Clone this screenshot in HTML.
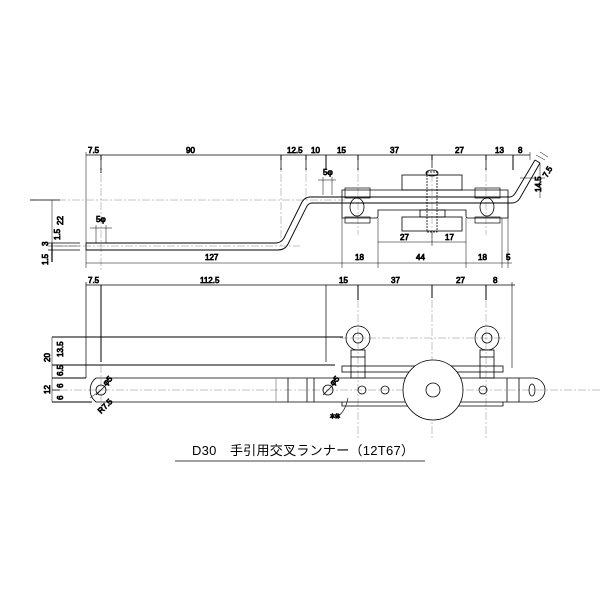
<!DOCTYPE html>
<html><head><meta charset="utf-8"><style>body{margin:0;background:#fff}svg{display:block}text{font-family:"Liberation Sans",sans-serif;font-size:8px;fill:#000}</style></head>
<body>
<svg width="600" height="600" viewBox="0 0 600 600" xmlns="http://www.w3.org/2000/svg" fill="none" stroke="#000" stroke-width="0.8">
<!-- ===== TOP VIEW ===== -->
<g stroke-width="0.7">
<line x1="86" y1="155" x2="530" y2="155"/>
<g stroke-width="1">
<line x1="101" y1="155" x2="101" y2="173"/><line x1="281" y1="155" x2="281" y2="170"/><line x1="306" y1="155" x2="306" y2="170"/><line x1="326" y1="155" x2="326" y2="170"/><line x1="358" y1="155" x2="358" y2="170"/><line x1="432" y1="155" x2="432" y2="168"/><line x1="486" y1="155" x2="486" y2="170"/><line x1="513" y1="155" x2="513" y2="170"/>
</g>
<line x1="86" y1="152" x2="86" y2="268" stroke-width="0.5"/>
<line x1="530" y1="152" x2="530" y2="160" stroke-width="0.5"/>
</g>
<g stroke="#888" stroke-width="0.5" stroke-dasharray="8,2,2,2">
<line x1="30" y1="200" x2="345" y2="200"/>
<line x1="55" y1="246" x2="300" y2="246"/>
<line x1="101" y1="160" x2="101" y2="270"/>
<line x1="281" y1="160" x2="281" y2="246"/>
<line x1="306" y1="160" x2="306" y2="200"/>
<line x1="358" y1="160" x2="358" y2="235"/>
<line x1="486" y1="160" x2="486" y2="235"/>
<line x1="432" y1="160" x2="432" y2="245"/>
</g>
<line x1="30" y1="200" x2="60" y2="200"/>
<text x="88" y="153">7.5</text><text x="186" y="153">90</text><text x="287" y="153">12.5</text><text x="311" y="153">10</text><text x="337" y="153">15</text><text x="390" y="153">37</text><text x="455" y="153">27</text><text x="495" y="153">13</text><text x="518" y="153">8</text>
<!-- bar -->
<path d="M86 243 H276 Q281 243 284 238 L302 202 Q305 197 310 197 H510 Q513 197 516 192 L535 160" stroke-width="0.9"/>
<path d="M86 250 H278 Q285 250 288 244 L306 208 Q308 203 312 203 H512 Q517 203 520 198 L540 163" stroke-width="0.9"/>
<line x1="86" y1="243" x2="86" y2="250"/>
<line x1="535" y1="160" x2="540" y2="163"/>
<path d="M536 155 L545 160 M540 152 L548 157" stroke-width="0.5"/>
<text x="547" y="178" transform="rotate(-60 547 178)">7.5</text>
<line x1="520" y1="178" x2="545" y2="178" stroke-width="0.5"/>
<line x1="540" y1="163" x2="540" y2="198" stroke-width="0.5"/>
<text x="541" y="192" transform="rotate(-90 541 192)">14.5</text>
<!-- 5phi -->
<line x1="90" y1="228" x2="112" y2="228" stroke-width="0.5"/><line x1="96" y1="225" x2="96" y2="243" stroke-width="0.5"/><line x1="106" y1="225" x2="106" y2="243" stroke-width="0.5"/>
<text x="96" y="222">5φ</text>
<line x1="318" y1="180" x2="336" y2="180" stroke-width="0.5"/><line x1="323" y1="177" x2="323" y2="195" stroke-width="0.5"/><line x1="332" y1="177" x2="332" y2="195" stroke-width="0.5"/>
<text x="323" y="175">5φ</text>
<!-- left dims -->
<line x1="52" y1="200" x2="52" y2="246" stroke-width="0.5"/><text x="63" y="225" transform="rotate(-90 63 225)">22</text>
<text x="50" y="228" transform="rotate(-90 50 228)"> </text>
<line x1="52" y1="243" x2="52" y2="262" stroke-width="1.2"/>
<line x1="48" y1="243" x2="80" y2="243"/><line x1="48" y1="250" x2="80" y2="250"/><line x1="48" y1="246" x2="80" y2="246" stroke-width="0.4"/>
<text x="48" y="246" transform="rotate(-90 48 246)">3</text>
<text x="60" y="240" transform="rotate(-90 60 240)">1.5</text>
<text x="48" y="265" transform="rotate(-90 48 265)">1.5</text>
<!-- 127 -->
<line x1="86" y1="263" x2="342" y2="263" stroke-width="0.5"/><text x="205" y="260">127</text>
<!-- plate -->
<path d="M342 190 H508 V218 H468 Q466 218 466 216 V210 H378 V216 Q378 218 376 218 H342 Z"/>
<rect x="345" y="188" width="25" height="10" stroke-width="0.7"/><rect x="345" y="217" width="25" height="6" stroke-width="0.7"/>
<rect x="475" y="188" width="25" height="10" stroke-width="0.7"/><rect x="475" y="217" width="25" height="6" stroke-width="0.7"/>
<ellipse cx="357" cy="207" rx="7" ry="9"/><ellipse cx="487" cy="207" rx="7" ry="9"/>
<rect x="402" y="175" width="60" height="15"/><rect x="402" y="217" width="60" height="14"/>
<rect x="420" y="210" width="25" height="7"/>
<rect x="427" y="172" width="10" height="60" stroke-dasharray="2,1"/>
<ellipse cx="432" cy="173" rx="6" ry="3"/>
<line x1="342" y1="218" x2="342" y2="268" stroke-width="0.5"/><line x1="378" y1="218" x2="378" y2="268" stroke-width="0.5"/><line x1="466" y1="218" x2="466" y2="268" stroke-width="0.5"/><line x1="502" y1="218" x2="502" y2="268" stroke-width="0.5"/><line x1="508" y1="200" x2="508" y2="268" stroke-width="0.5"/>
<line x1="378" y1="242" x2="466" y2="242" stroke-width="0.5"/><line x1="432" y1="232" x2="432" y2="246" stroke-width="0.5"/>
<text x="400" y="240">27</text><text x="445" y="240">17</text>
<line x1="342" y1="263" x2="512" y2="263" stroke-width="0.5"/>
<text x="355" y="260">18</text><text x="416" y="260">44</text><text x="478" y="260">18</text><text x="506" y="260">5</text>
<!-- ===== BOTTOM VIEW ===== -->
<line x1="86" y1="285" x2="515" y2="285" stroke-width="0.7"/>
<line x1="86" y1="282" x2="86" y2="378" stroke-width="0.7"/>
<line x1="101" y1="285" x2="101" y2="362" stroke-width="1"/>
<line x1="326" y1="285" x2="326" y2="362" stroke-width="0.7"/>
<line x1="358" y1="285" x2="358" y2="300" stroke-width="1"/><line x1="432" y1="285" x2="432" y2="298" stroke-width="1"/><line x1="486" y1="285" x2="486" y2="300" stroke-width="1"/>
<line x1="512" y1="282" x2="512" y2="368" stroke-width="0.6"/>
<text x="88" y="283">7.5</text><text x="200" y="283">112.5</text><text x="339" y="283">15</text><text x="391" y="283">37</text><text x="456" y="283">27</text><text x="493" y="283">8</text>
<g stroke="#888" stroke-width="0.5" stroke-dasharray="8,2,2,2">
<line x1="60" y1="390" x2="600" y2="390"/>
<line x1="101" y1="365" x2="101" y2="410"/>
<line x1="358" y1="300" x2="358" y2="440"/><line x1="432" y1="300" x2="432" y2="440"/><line x1="486" y1="300" x2="486" y2="440"/>
<line x1="340" y1="338" x2="505" y2="338"/>
</g>
<line x1="52" y1="337" x2="343" y2="337" stroke-width="0.9"/>
<line x1="52" y1="365" x2="335" y2="365" stroke-width="0.9"/>
<line x1="52" y1="378" x2="86" y2="378" stroke-width="0.9"/>
<line x1="52" y1="402" x2="92" y2="402" stroke-width="0.9"/>
<line x1="52" y1="337" x2="52" y2="402" stroke-width="0.5"/>
<line x1="52" y1="390" x2="60" y2="390"/>
<text x="63" y="357" transform="rotate(-90 63 357)">13.5</text>
<text x="50" y="362" transform="rotate(-90 50 362)">20</text>
<text x="63" y="376" transform="rotate(-90 63 376)">6.5</text>
<text x="50" y="394" transform="rotate(-90 50 394)">12</text>
<text x="63" y="388" transform="rotate(-90 63 388)">6</text>
<text x="63" y="400" transform="rotate(-90 63 400)">6</text>
<!-- bar -->
<path d="M96 378 H533 A12 12 0 0 1 533 402 H96 A12 14 0 0 1 96 378"/>
<line x1="276" y1="378" x2="276" y2="402" stroke="#888"/><line x1="288" y1="378" x2="288" y2="402"/><line x1="307" y1="378" x2="307" y2="402"/><line x1="314" y1="378" x2="314" y2="402"/>
<line x1="507" y1="378" x2="507" y2="402"/><line x1="519" y1="378" x2="519" y2="402"/>
<ellipse cx="532" cy="390" rx="3" ry="6"/>
<circle cx="101" cy="390" r="5"/><line x1="96" y1="395" x2="106" y2="385"/>
<circle cx="328" cy="390" r="5"/><line x1="323" y1="395" x2="333" y2="385"/>
<text x="106" y="386" transform="rotate(-45 106 386)">φ5</text>
<text x="333" y="386" transform="rotate(-45 333 386)">φ5</text>
<text x="101" y="414" transform="rotate(-45 101 414)">R7.5</text>
<line x1="90" y1="398" x2="101" y2="390" stroke-width="0.5"/>
<!-- plate -->
<rect x="342" y="366" width="161" height="6"/>
<path d="M342 402 V406 H503 V402"/>
<circle cx="362" cy="390" r="4"/><circle cx="385" cy="390" r="4"/><circle cx="483" cy="390" r="4"/>
<circle cx="433" cy="390" r="30" fill="#fff"/>
<circle cx="433" cy="390" r="7"/>
<circle cx="358" cy="338" r="12"/><circle cx="358" cy="338" r="5"/>
<circle cx="487" cy="338" r="12"/><circle cx="487" cy="338" r="5"/>
<rect x="351" y="350" width="14" height="28"/><line x1="351" y1="357" x2="365" y2="357"/>
<rect x="480" y="350" width="14" height="28"/><line x1="480" y1="357" x2="494" y2="357"/>
<path d="M338 416 Q345 412 348 398" stroke-width="0.6"/>
<text x="330" y="418" style="font-size:5px;font-family:'Noto Sans CJK JP',sans-serif">本体</text>
<!-- title -->
<text x="192" y="455" stroke="none" style="font-size:13px;font-family:'Liberation Sans','Noto Sans CJK JP',sans-serif" textLength="222">D30　手引用交叉ランナー（12T67）</text>
<line x1="175" y1="461" x2="425" y2="461" stroke-width="0.7"/>
</svg>
</body></html>
